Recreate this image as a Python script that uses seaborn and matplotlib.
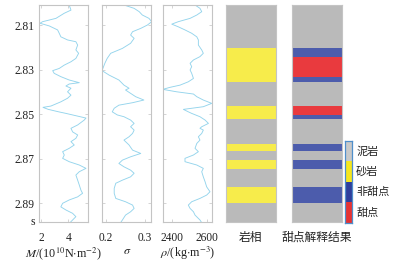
import numpy as np
import pandas as pd
import matplotlib
matplotlib.use("Agg")
import matplotlib.pyplot as plt
from matplotlib.transforms import blended_transform_factory
import seaborn as sns

# ---------------- data ----------------
M_t = [2.8010,2.8033,2.8047,2.8070,2.8085,2.8092,2.8104,2.8122,2.8137,2.8153,2.8167,2.8175,2.8190,2.8212,2.8227,
       2.8250,2.8265,2.8280,2.8295,2.8305,2.8317,2.8332,2.8347,2.8359,2.8365,2.8374,2.8384,2.8400,2.8415,2.8429,
       2.8445,2.8464,2.8470,2.8479,2.8490,2.8497,2.8518,2.8527,2.8549,2.8564,2.8580,2.8594,2.8609,2.8624,2.8639,
       2.8654,2.8669,2.8684,2.8699,2.8714,2.8729,2.8744,2.8759,2.8774,2.8797,2.8819,2.8842,2.8856,2.8872,2.8886,
       2.8901,2.8917,2.8931,2.8946,2.8961,2.8976,2.8999]
M_v = [4.07,4.20,3.71,3.10,2.12,1.93,2.61,3.22,3.34,3.46,3.95,4.56,4.69,4.56,4.76,
       4.56,4.20,3.71,3.34,2.86,2.97,3.46,4.07,4.81,4.07,3.83,4.20,3.95,4.20,3.95,
       3.46,2.73,2.15,2.54,3.30,3.83,5.30,5.17,4.69,4.20,4.32,4.69,4.56,4.20,4.44,
       4.07,3.59,3.71,3.59,4.07,4.81,5.30,4.81,4.56,4.69,4.81,4.93,5.05,4.69,4.07,
       3.59,3.46,3.83,4.32,4.56,4.32,3.95]

S_t = [2.8010,2.8025,2.8040,2.8055,2.8070,2.8085,2.8100,2.8115,2.8130,2.8145,2.8160,2.8182,2.8205,2.8227,2.8250,
       2.8272,2.8295,2.8305,2.8325,2.8347,2.8370,2.8384,2.8392,2.8407,2.8422,2.8437,2.8449,2.8460,2.8474,2.8490,
       2.8504,2.8512,2.8527,2.8542,2.8557,2.8572,2.8587,2.8602,2.8617,2.8639,2.8662,2.8677,2.8692,2.8707,2.8722,
       2.8737,2.8752,2.8766,2.8782,2.8797,2.8811,2.8834,2.8856,2.8879,2.8894,2.8909,2.8924,2.8939,2.8954,2.8976,
       2.8999]
S_v = [0.246,0.272,0.285,0.293,0.310,0.317,0.306,0.289,0.268,0.263,0.272,0.263,0.242,0.212,0.203,
       0.197,0.192,0.190,0.208,0.233,0.246,0.259,0.250,0.263,0.276,0.297,0.268,0.233,0.221,0.216,
       0.229,0.246,0.263,0.272,0.263,0.272,0.268,0.259,0.246,0.259,0.268,0.289,0.263,0.242,0.233,
       0.246,0.263,0.272,0.263,0.242,0.225,0.221,0.221,0.225,0.250,0.268,0.272,0.263,0.250,0.242,
       0.233]

R_t = [2.8010,2.8025,2.8040,2.8055,2.8070,2.8085,2.8096,2.8108,2.8122,2.8137,2.8153,2.8167,2.8190,2.8212,2.8227,
       2.8242,2.8257,2.8272,2.8287,2.8302,2.8317,2.8340,2.8355,2.8370,2.8380,2.8389,2.8400,2.8410,2.8422,2.8437,
       2.8452,2.8467,2.8479,2.8490,2.8497,2.8512,2.8527,2.8542,2.8557,2.8564,2.8572,2.8587,2.8602,2.8617,2.8632,
       2.8654,2.8669,2.8684,2.8699,2.8714,2.8729,2.8744,2.8759,2.8782,2.8804,2.8827,2.8849,2.8864,2.8879,2.8894,
       2.8909,2.8924,2.8939,2.8954,2.8976,2.8999]
R_v = [2532,2560,2570,2542,2504,2437,2400,2437,2475,2513,2542,2551,2551,2570,2579,
       2560,2523,2504,2513,2504,2513,2523,2494,2447,2390,2349,2428,2523,2542,2579,
       2627,2579,2466,2494,2513,2560,2589,2608,2570,2560,2579,2570,2551,2560,2542,
       2532,2551,2523,2475,2475,2542,2579,2570,2579,2589,2598,2617,2598,2560,2513,
       2494,2504,2523,2532,2560,2579]

facies_bounds = [2.801, 2.8203, 2.8356, 2.8464, 2.8524, 2.8635, 2.8665, 2.8707, 2.8746, 2.8827, 2.8899, 2.8985]
facies_codes = ["泥岩", "砂岩", "泥岩", "砂岩", "泥岩", "砂岩", "泥岩", "砂岩", "泥岩", "砂岩", "泥岩"]

sweet_bounds = [2.801, 2.8205, 2.8245, 2.8335, 2.8355, 2.8464, 2.8504, 2.8524, 2.8635, 2.8665,
                2.8707, 2.8746, 2.8827, 2.8899, 2.8985]
sweet_codes = ["泥岩", "非甜点", "甜点", "非甜点", "泥岩", "甜点", "非甜点", "泥岩", "非甜点", "泥岩",
               "非甜点", "泥岩", "非甜点", "泥岩"]

legend_classes = ["泥岩", "砂岩", "非甜点", "甜点"]
y_ticks = [2.81, 2.83, 2.85, 2.87, 2.89]
y_ticklabels = ["2.81", "2.83", "2.85", "2.87", "2.89"]

# ---------------- style ----------------
sns.set_style("white")
plt.rcParams["font.family"] = ["Liberation Serif", "Noto Sans CJK SC", "DejaVu Sans"]
plt.rcParams["mathtext.fontset"] = "stix"

bar_colors = {"泥岩": "#BABABA", "砂岩": "#F7EC4B", "非甜点": "#4C5CAC", "甜点": "#E93A3E"}
cb_colors = {"泥岩": "#C9C9C9", "砂岩": "#F5E61E", "非甜点": "#2F3F9C", "甜点": "#E63333"}
line_color = "#94D4EC"
spine_color = "#C4C4C4"

W, H = 393, 261
fig = plt.figure(figsize=(W / 100, H / 100), dpi=100)

def rect(x0, x1, y0=5, y1=222):
    return [x0 / W, 1 - y1 / H, (x1 - x0) / W, (y1 - y0) / H]

YLIM = (2.8985, 2.801)

def style_axes(ax):
    for s in ax.spines.values():
        s.set_color(spine_color)
        s.set_linewidth(0.8)
    ax.tick_params(direction="in", length=2.5, width=0.5, color=spine_color,
                   top=True, right=True, left=True, bottom=True,
                   labelsize=8.3, labelcolor="#222222")
    ax.tick_params(axis="x", pad=7.5)
    ax.set_ylim(*YLIM)
    ax.set_yticks(y_ticks)

curves = [
    (pd.DataFrame({"t": M_t, "v": M_v}), rect(39.3, 88.3), (1.88, 5.47), [2, 4], ["2", "4"],
     r"$M$/(10$^{10}$N$\cdot$m$^{-2}$)"),
    (pd.DataFrame({"t": S_t, "v": S_v}), rect(102.3, 151.3), (0.1905, 0.316), [0.2, 0.3], ["0.2", "0.3"],
     r"$\sigma$"),
    (pd.DataFrame({"t": R_t, "v": R_v}), rect(163.3, 212.3), (2352, 2630), [2400, 2600], ["2400", "2600"],
     r"$\rho$/(kg$\cdot$m$^{-3}$)"),
]

for i, (df, r, xl, xt, xtl, xlab) in enumerate(curves):
    ax = fig.add_axes(r)
    sns.lineplot(data=df, x="v", y="t", orient="y", sort=False, ax=ax,
                 color=line_color, linewidth=0.65)
    style_axes(ax)
    ax.set_xlim(*xl)
    ax.set_xticks(xt)
    ax.set_xticklabels(xtl)
    ax.set_xlabel(xlab, fontsize=8.7, labelpad=0.5, color="#222222")
    ax.set_ylabel("")
    if i == 0:
        ax.set_yticklabels(y_ticklabels)
        ax.tick_params(axis="y", pad=3.5)
        trans = blended_transform_factory(ax.transAxes, ax.transData)
        ax.text(-0.09, 2.8985, "s", transform=trans, ha="right", va="center",
                fontsize=8.3, color="#222222")
    else:
        ax.set_yticklabels([])

def draw_column(r, bounds, codes, label):
    ax = fig.add_axes(r)
    tops = np.array(bounds[:-1])
    hts = np.diff(bounds)
    ax.barh(y=tops, width=1, height=hts, left=0, align="edge",
            color=[bar_colors[c] for c in codes], linewidth=0)
    style_axes(ax)
    ax.set_xlim(0, 1)
    ax.set_xticks([0.25, 0.75])
    ax.set_xticklabels([])
    ax.set_yticklabels([])
    ax.text(0.5, -0.071, label, transform=ax.transAxes, ha="center", va="center",
            fontsize=8.5, family=["Noto Sans CJK SC"], color="#222222")
    return ax

draw_column(rect(225.7, 275.7), facies_bounds, facies_codes, "岩相")
draw_column(rect(292.3, 341.7), sweet_bounds, sweet_codes, "甜点解释结果")

# legend colour bar
cax = fig.add_axes(rect(345, 351.7, 141, 222.7))
cax.barh(y=np.arange(len(legend_classes)), width=1, height=1, left=0, align="edge",
         color=[cb_colors[c] for c in legend_classes], linewidth=0)
cax.set_ylim(len(legend_classes), 0)
cax.set_xlim(0, 1)
cax.set_xticks([])
cax.set_yticks([])
for s in cax.spines.values():
    s.set_color("#4F8FCB")
    s.set_linewidth(0.9)
for k, c in enumerate(legend_classes):
    cax.text(1.0 + 4.5 / 6.7, k + 0.5, c, transform=blended_transform_factory(cax.transAxes, cax.transData),
             ha="left", va="center", fontsize=8, family=["Noto Sans CJK SC"], color="#222222")

fig.savefig("out.png", dpi=100)
